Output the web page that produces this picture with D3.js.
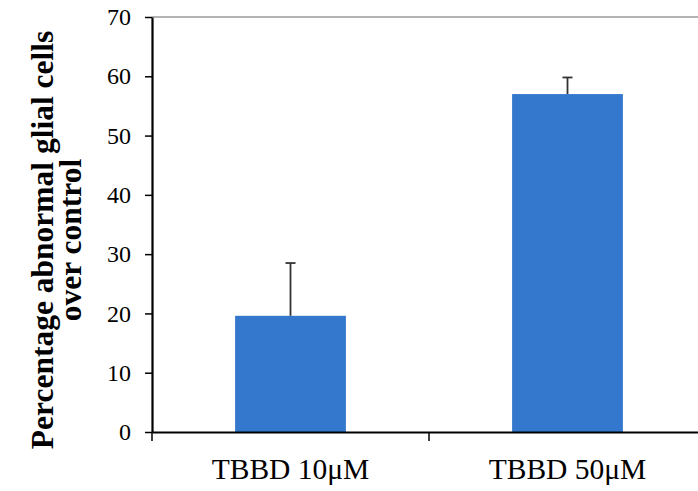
<!DOCTYPE html>
<html><head><meta charset="utf-8">
<script src="https://cdn.jsdelivr.net/npm/d3@7"></script>
<style>body{margin:0;background:#fff}svg{display:block}</style>
</head><body>
<script>
const categories = ["TBBD 10μM", "TBBD 50μM"];
const values = [19.6, 57.0];
const errors = [8.9, 2.8];
const yTicks = [0, 10, 20, 30, 40, 50, 60, 70];

const W = 698, H = 491;
const svg = d3.select("body").append("svg").attr("width", W).attr("height", H);

const x = d3.scaleBand().domain(categories).range([152, 706]).padding(0);
const y = d3.scaleLinear().domain([0, 70]).range([432, 17]);

// top border line
svg.append("line").attr("x1", 152).attr("x2", W).attr("y1", y(70)).attr("y2", y(70))
  .attr("stroke", "#9a9a9a").attr("stroke-width", 1.5);

// bars
const bw = x.bandwidth() * 0.4;
svg.selectAll("rect.bar").data(categories).enter().append("rect")
  .attr("x", d => x(d) + (x.bandwidth() - bw) / 2)
  .attr("y", (d, i) => y(values[i]))
  .attr("width", bw)
  .attr("height", (d, i) => y(0) - y(values[i]))
  .attr("fill", "#3378cd");

// error bars (upper only)
const eg = svg.append("g").attr("stroke", "#333").attr("stroke-width", 1.8);
categories.forEach((c, i) => {
  const cx = x(c) + x.bandwidth() / 2;
  eg.append("line").attr("x1", cx).attr("x2", cx).attr("y1", y(values[i])).attr("y2", y(values[i] + errors[i]));
  eg.append("line").attr("x1", cx - 5).attr("x2", cx + 5).attr("y1", y(values[i] + errors[i])).attr("y2", y(values[i] + errors[i]));
});

// y axis
const yAxis = d3.axisLeft(y).tickValues(yTicks).tickSize(7).tickPadding(14).tickSizeOuter(0);
const gy = svg.append("g").attr("transform", "translate(152,0)").call(yAxis);
gy.select(".domain").attr("stroke", "#000").attr("stroke-width", 2.2);
gy.selectAll(".tick line").attr("stroke", "#000").attr("stroke-width", 1.5);
gy.selectAll(".tick text").attr("font-family", "Liberation Serif, Times New Roman, serif")
  .attr("font-size", 24).attr("fill", "#000");
// extend y axis below the x axis
svg.append("line").attr("x1", 152).attr("x2", 152).attr("y1", y(0)).attr("y2", y(0) + 9)
  .attr("stroke", "#000").attr("stroke-width", 1.5);

// x axis
const xAxis = d3.axisBottom(x).tickSize(0).tickPadding(26).tickSizeOuter(0);
const gx = svg.append("g").attr("transform", `translate(0,${y(0)})`).call(xAxis);
gx.select(".domain").attr("stroke", "#000").attr("stroke-width", 2.2);
gx.selectAll(".tick text").attr("font-family", "Liberation Serif, Times New Roman, serif")
  .attr("font-size", 29.5).attr("fill", "#000");
// category boundary ticks
categories.slice(1).forEach(c => {
  svg.append("line").attr("x1", x(c)).attr("x2", x(c)).attr("y1", y(0)).attr("y2", y(0) + 9)
    .attr("stroke", "#000").attr("stroke-width", 1.5);
});

// y axis title
const t = svg.append("text")
  .attr("transform", "translate(0,240) rotate(-90)")
  .attr("text-anchor", "middle")
  .attr("font-family", "Liberation Serif, Times New Roman, serif")
  .attr("font-weight", "bold").attr("font-size", 31.5).attr("fill", "#000");
t.append("tspan").attr("x", 0).attr("y", 53).text("Percentage abnormal glial cells");
t.append("tspan").attr("x", 0).attr("y", 81).text("over control");
</script>
</body></html>
